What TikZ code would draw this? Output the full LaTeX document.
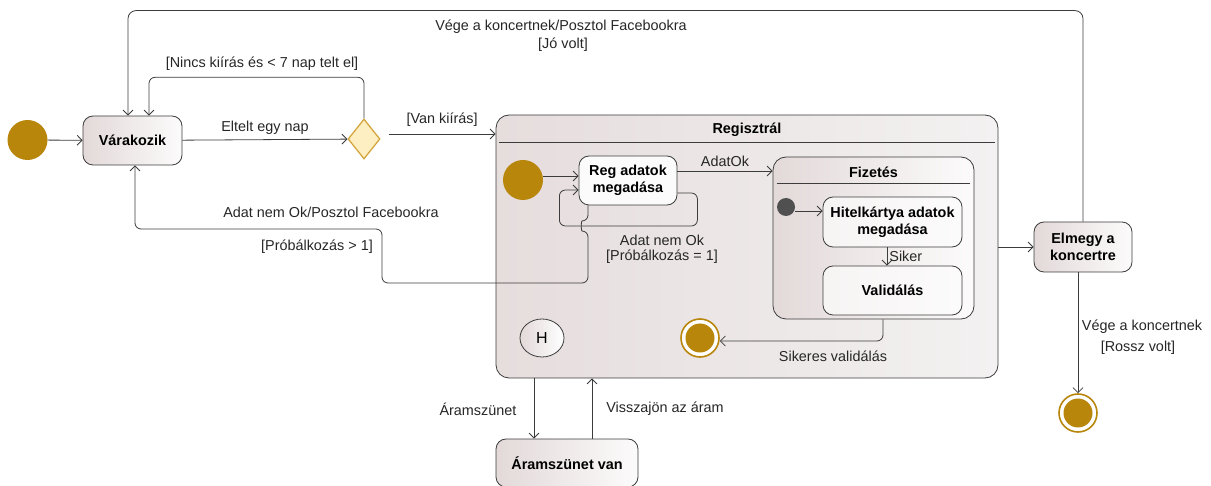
\documentclass[tikz,border=0pt]{standalone}
\usepackage{fontspec}
\setmainfont{Liberation Sans}
\usetikzlibrary{arrows.meta,shapes.geometric,calc}
\definecolor{arany}{HTML}{B8860B}
\definecolor{vonal}{HTML}{3C3C3C}
\definecolor{szoveg}{HTML}{262626}
\definecolor{balszin}{HTML}{E3D9D9}
\definecolor{jobbszin}{HTML}{FCFBFB}
\definecolor{regbal}{HTML}{E6DDDD}
\definecolor{regjobb}{HTML}{F3F1F1}
\definecolor{rombusz}{HTML}{FDEFC2}
\definecolor{rombuszvonal}{HTML}{D4A640}
\newcommand\cimkefont{\fontsize{14.4}{15}\selectfont}
\newcommand\dobozfont{\fontsize{14.4}{17}\selectfont\bfseries}
\tikzset{trans/.style = {draw = vonal, line width = 0.8pt, -{Straight Barb[length=5pt,width=10pt]}}}
\tikzset{allapot/.style = {draw = vonal, line width = 0.8pt, rounded corners = 10pt, inner sep = 0pt, align = center, font = \dobozfont, text = black, left color = balszin, right color = jobbszin}}
\tikzset{osszetett/.style = {allapot, rounded corners = 13pt}}
\tikzset{cim/.style = {font = \dobozfont, inner sep = 0pt}}
\tikzset{cimke/.style = {font = \cimkefont, text = szoveg, inner sep = 0pt, align = center}}
\tikzset{kezdo/.style = {circle, fill = arany, minimum size = 40, inner sep = 0pt}}
\tikzset{vegso/.style = {circle, draw = arany, line width = 1.6pt, fill = white, minimum size = 38, inner sep = 0pt, path picture = {\fill [arany] (path picture bounding box.center) circle (14.5);}}}

\begin{document}
\begin{tikzpicture}[x = 1pt, y = -1pt]

  \useasboundingbox (0 , 0) rectangle (1211 , 486);

  % osszetett allapotok
  \node [osszetett, minimum width = 502, minimum height = 263, left color = regbal, right color = regjobb] (reg) at (747 , 246.5) {};
  \node [cim] (regcim) at (747 , 130) {Regisztrál};
  \draw [vonal, line width = 0.8pt] ($(reg.north west) + (3 , 28)$) -- ($(reg.north east) + (-3 , 28)$);

  \node [osszetett, minimum width = 201, minimum height = 162] (fiz) at (873.5 , 238) {};
  \node [cim] (fizcim) at (873.5 , 172) {Fizetés};
  \draw [vonal, line width = 0.8pt] ($(fiz.north west) + (4 , 27)$) -- ($(fiz.north east) + (-4 , 27)$);

  % allapotok
  \node [kezdo] (init1) at (27.5 , 140) {};
  \node [allapot, minimum width = 99, minimum height = 49] (var) at (132.5 , 140.5) {Várakozik};
  \node [diamond, aspect = 0.8, draw = rombuszvonal, fill = rombusz, line width = 1.3pt, minimum width = 32, minimum height = 40, inner sep = 0pt] (dia) at (364 , 139) {};

  \node [kezdo] (init2) at (523 , 180) {};
  \node [allapot, minimum width = 98, minimum height = 49, left color = white!90!balszin] (rega) at (628 , 180.5) {Reg adatok\\megadása};

  \node [circle, fill = vonal!90!white, minimum size = 18, inner sep = 0pt] (init3) at (786 , 207) {};
  \node [allapot, minimum width = 139, minimum height = 50, left color = white!70!balszin] (hit) at (892.5 , 222) {Hitelkártya adatok\\megadása};
  \node [allapot, minimum width = 139, minimum height = 49, left color = white!70!balszin] (val) at (892.5 , 290.5) {Validálás};

  \node [vegso] (fin1) at (700 , 338) {};
  \node [ellipse, draw = vonal, line width = 0.8pt, left color = balszin, right color = white, minimum width = 44, minimum height = 38, inner sep = 0pt, font = \fontsize{16}{16}\selectfont] (hist) at (542 , 338) {H};

  \node [allapot, minimum width = 142, minimum height = 48] (aram) at (567 , 463) {Áramszünet van};
  \node [allapot, minimum width = 98, minimum height = 50] (elm) at (1083 , 247) {Elmegy a\\koncertre};
  \node [vegso] (fin2) at (1078 , 413) {};

  % atmenetek
  \draw [trans] (init1) -- (var);
  \draw [trans] (var) -- node [cimke, above = 5pt] (lnap) {Eltelt egy nap} (dia);
  \draw [trans, rounded corners = 6pt] (dia.north) -- ++(0 , -41) -| ([xshift = 16.5pt]var.north);
  \node [cimke] (lnincs) at (262 , 64) {[Nincs kiírás és < 7 nap telt el]};

  \draw [trans, rounded corners = 8pt] (elm.north) -- ++(0 , -211) -| ([xshift = -4.5pt]var.north);
  \node [cimke] (lvege) at (561 , 27) {Vége a koncertnek/Posztol Facebookra};
  \node [cimke] (ljo) at (563 , 45) {[Jó volt]};

  \draw [trans] ([shift = {(8pt , 5pt)}]dia.east) coordinate (vk) -- node [cimke, above = 7pt] (lvan) {[Van kiírás]} (vk -| reg.west);

  \draw [trans] ([yshift = 4pt]init2.east) coordinate (i2) -- (i2 -| rega.west);
  \draw [trans, rounded corners = 6pt] ([yshift = -12.5pt]rega.east) -- ++(20 , 0) -- ++(0 , 33) -- ++(-138 , 0) |- ([yshift = -9.5pt]rega.west);
  \node [cimke] (lnemok) at (662 , 240) {Adat nem Ok};
  \node [cimke] (lprob1) at (662 , 257) {[Próbálkozás = 1]};

  \draw [trans, rounded corners = 6pt] ([xshift = -40pt]rega.south) -- (588 , 221) .. controls (581 , 221) and (581 , 231) .. (588 , 231) -- (588 , 283) -- (382 , 283) -- (382 , 229) -| ([xshift = 2.5pt]var.south);
  \node [cimke] (lposzt) at (331 , 212) {Adat nem Ok/Posztol Facebookra};
  \node [cimke] (lprob2) at (317 , 247) {[Próbálkozás > 1]};

  \draw [trans] ([yshift = 9.5pt]rega.east) coordinate (ao) -- node [cimke, above = 4pt] (ladatok) {AdatOk} (ao -| fiz.west);
  \draw [trans] ([yshift = -4pt]init3.east) coordinate (i3) -- (i3 -| hit.west);
  \draw [trans] ([xshift = -5.5pt]hit.south) -- node [cimke, right = 2pt] (lsiker) {Siker} ([xshift = -5.5pt]val.north);
  \draw [trans, rounded corners = 6pt] ([xshift = 9.5pt]fiz.south) |- ([yshift = -3pt]fin1.east);
  \node [cimke] (lsikeres) at (833 , 356) {Sikeres validálás};

  \draw [trans] ([xshift = -33pt]aram.north |- reg.south) -- ([xshift = -33pt]aram.north);
  \draw [trans] ([xshift = 25pt]aram.north) -- ([xshift = 25pt]aram.north |- reg.south);
  \node [cimke] (laram) at (478 , 409) {Áramszünet};
  \node [cimke] (lvissza) at (665 , 409) {Visszajön az áram};

  \draw [trans] (reg.east |- elm.west) -- (elm.west);
  \draw [trans] (fin2.north |- elm.south) -- (fin2.north);
  \node [cimke] (lvege2) at (1142 , 327) {Vége a koncertnek};
  \node [cimke] (lrossz) at (1138 , 348) {[Rossz volt]};

\end{tikzpicture}
\end{document}
